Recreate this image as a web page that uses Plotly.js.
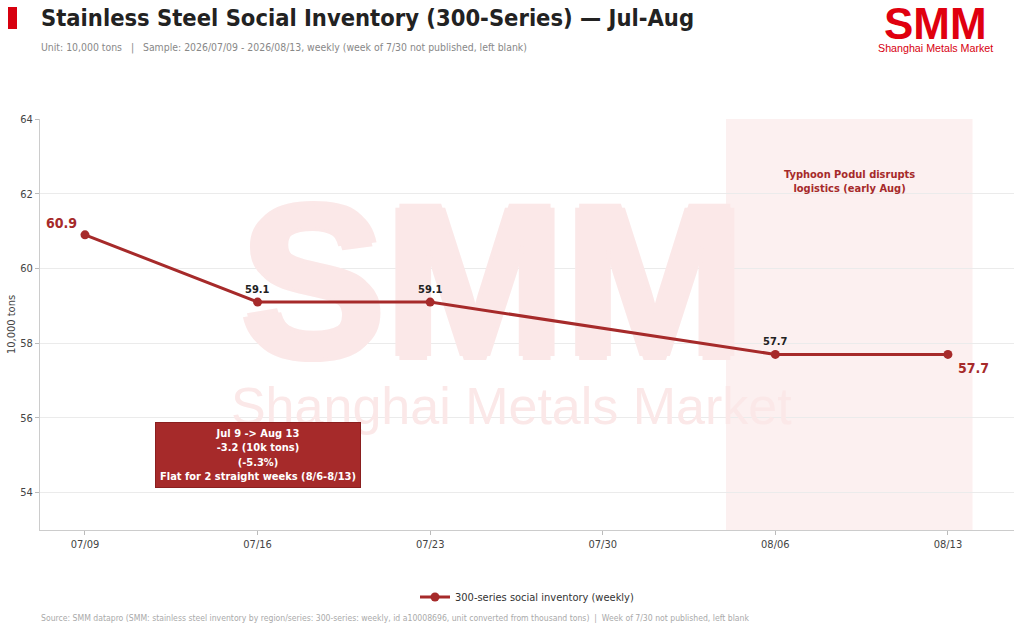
<!DOCTYPE html>
<html>
<head>
<meta charset="utf-8">
<script src="https://cdn.plot.ly/plotly-3.0.1.min.js"></script>
<style>
html,body{margin:0;padding:0;background:#fff}
#chart{width:1024px;height:630px}
</style>
</head>
<body>
<div id="chart"></div>
<script>
// weekly 300-series social inventory, unit 10,000 tons (7/30 not published)
const weeks = ['2026-07-09','2026-07-16','2026-07-23','2026-07-30','2026-08-06','2026-08-13']
const weekLabels = ['07/09','07/16','07/23','07/30','08/06','08/13']
const inventory = [60.9, 59.1, 59.1, null, 57.7, 57.7]
const yTicks = [54, 56, 58, 60, 62, 64]
const typhoonSpan = ['2026-08-04','2026-08-14']

const red = '#a62a2a'
const font = '"Liberation Sans Narrow", "DejaVu Sans Condensed", Roboto, sans-serif'
const logoFont = '"Liberation Sans", Arial, sans-serif'
const markColor = '#fbe8e8'

// page geometry -> paper coords
const W = 1024, H = 630
const M = {l: 40, r: 10, t: 119, b: 100}
function px(x){ return (x - M.l) / (W - M.l - M.r) }
function py(y){ return (H - M.b - y) / (H - M.t - M.b) }

let first = inventory.findIndex(v => v !== null)
let last = inventory.length - 1
while (inventory[last] === null) last--
let change = inventory[last] - inventory[first]
let pct = change / inventory[first] * 100

let anns = []
inventory.forEach((v, i) => {
    if (v === null) return
    if (i === first) {
        anns.push({x: weeks[i], y: v, text: `<b>${v.toFixed(1)}</b>`, showarrow: false,
            xanchor: 'right', xshift: -6, yshift: 12, font: {size: 14, color: red}})
    } else if (i === last) {
        anns.push({x: weeks[i], y: v, text: `<b>${v.toFixed(1)}</b>`, showarrow: false,
            xanchor: 'left', xshift: 8, yshift: -14, font: {size: 14, color: red}})
    } else {
        anns.push({x: weeks[i], y: v, text: `<b>${v.toFixed(1)}</b>`, showarrow: false,
            yshift: 13, font: {size: 11, color: '#222'}})
    }
})

// typhoon note
anns.push({x: '2026-08-09', y: 62.33, text: '<b>Typhoon Podul disrupts<br>logistics (early Aug)</b>',
    showarrow: false, font: {size: 11, color: red}})

// summary box
anns.push({x: weeks[1], y: 55, showarrow: false, align: 'center',
    text: `<b>Jul 9 -> Aug 13<br>${change.toFixed(1)} (10k tons)<br>(${pct.toFixed(1)}%)<br>Flat for 2 straight weeks (8/6-8/13)</b>`,
    bgcolor: red, bordercolor: '#8a1f1f', borderwidth: 1, borderpad: 4,
    font: {size: 11, color: '#fff'}})

// header + footer
anns.push({xref: 'paper', yref: 'paper', x: px(39), y: py(18), xanchor: 'left', yanchor: 'middle',
    text: '<b>Stainless Steel Social Inventory (300-Series) — Jul-Aug</b>', showarrow: false,
    font: {size: 23.5, color: '#222'}})
anns.push({xref: 'paper', yref: 'paper', x: px(39), y: py(47), xanchor: 'left', yanchor: 'middle',
    text: 'Unit: 10,000 tons   |   Sample: 2026/07/09 - 2026/08/13, weekly (week of 7/30 not published, left blank)',
    showarrow: false, font: {size: 10.4, color: '#888'}})
anns.push({xref: 'paper', yref: 'paper', x: px(935), y: py(24), xanchor: 'center', yanchor: 'middle',
    text: '<b>SMM</b>', showarrow: false,
    font: {family: logoFont, size: 44, color: '#e0000f'}})
anns.push({xref: 'paper', yref: 'paper', x: px(935), y: py(48), xanchor: 'center', yanchor: 'middle',
    text: 'Shanghai Metals Market', showarrow: false,
    font: {family: logoFont, size: 10.7, color: '#d7000f'}})
anns.push({xref: 'paper', yref: 'paper', x: px(39), y: py(618), xanchor: 'left', yanchor: 'middle',
    text: 'Source: SMM datapro (SMM: stainless steel inventory by region/series: 300-series: weekly, id a10008696, unit converted from thousand tons)  |  Week of 7/30 not published, left blank',
    showarrow: false, font: {size: 8.6, color: '#aaa'}})

// faint watermark, drawn first so it sits under the line
let markBig = {x: ['2026-07-25 13:00'], y: [59.1], text: ['<b>SMM</b>'], mode: 'text',
    textfont: {family: logoFont, size: 216, weight: 'bold', color: markColor,
        shadow: `4px 0 0 ${markColor}, -4px 0 0 ${markColor}, 0 4px 0 ${markColor}, 0 -4px 0 ${markColor}`},
    hoverinfo: 'skip', showlegend: false, cliponaxis: false}
let markSmall = {x: ['2026-07-26 07:00'], y: [56.19], text: ['Shanghai Metals Market'], mode: 'text',
    textfont: {family: logoFont, size: 52, color: markColor},
    hoverinfo: 'skip', showlegend: false, cliponaxis: false}

let traceInv = {
    x: weeks,
    y: inventory,
    name: '300-series social inventory (weekly)',
    type: 'scatter',
    mode: 'lines+markers',
    connectgaps: true,
    line: {color: red, width: 3},
    marker: {color: red, size: 9}
}

const layout = {
    width: W,
    height: H,
    margin: M,
    paper_bgcolor: '#fff',
    plot_bgcolor: '#fff',
    font: {family: font, color: '#444'},
    showlegend: true,
    legend: {orientation: 'h', x: 0.5, xanchor: 'center', y: py(597), yanchor: 'middle',
        font: {size: 11, color: '#333'}},
    xaxis: {
        type: 'date',
        range: ['2026-07-07 04:12', '2026-08-15 16:20'],
        tickvals: weeks,
        ticktext: weekLabels,
        ticks: 'outside', ticklen: 4, tickcolor: '#bbb',
        tickfont: {size: 11, color: '#444'},
        showgrid: false,
        showline: true, linecolor: '#ccc', linewidth: 1,
        zeroline: false
    },
    yaxis: {
        range: [53, 64],
        tickvals: yTicks,
        ticks: 'outside', ticklen: 4, tickcolor: '#bbb',
        tickfont: {size: 11, color: '#444'},
        showgrid: true, gridcolor: '#ebebeb',
        showline: true, linecolor: '#ccc', linewidth: 1,
        zeroline: false,
        title: {text: '10,000 tons', font: {size: 11, color: '#444'}, standoff: 2}
    },
    shapes: [
        {type: 'rect', xref: 'x', yref: 'paper', x0: typhoonSpan[0], x1: typhoonSpan[1], y0: 0, y1: 1,
            fillcolor: 'rgba(220,60,60,0.075)', line: {width: 0}, layer: 'below'},
        {type: 'rect', xref: 'paper', yref: 'paper', x0: px(8), x1: px(17), y0: py(29), y1: py(7),
            fillcolor: '#d7000f', line: {width: 0}}
    ],
    annotations: anns
}

Plotly.newPlot('chart', [markBig, markSmall, traceInv], layout, {displayModeBar: false, staticPlot: true})
</script>
</body>
</html>
